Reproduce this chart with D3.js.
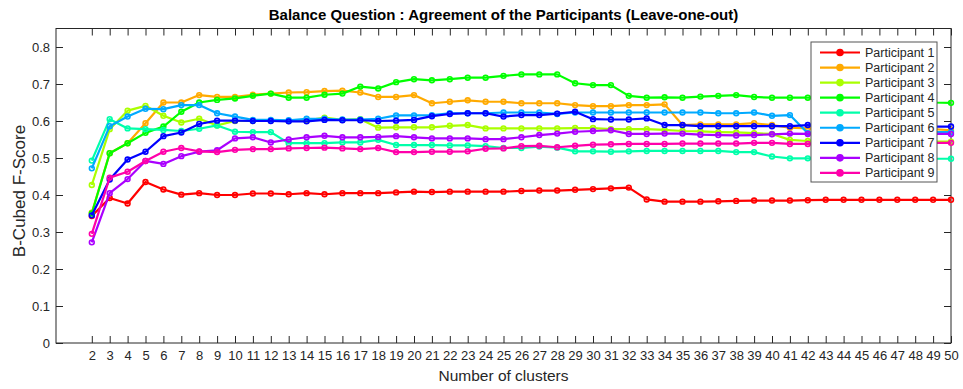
<!DOCTYPE html>
<html>
<head>
<meta charset="utf-8">
<script src="https://cdn.jsdelivr.net/npm/d3@7"></script>
<style>
  html, body { margin: 0; padding: 0; background: #fff; }
  svg { display: block; font-family: "Liberation Sans", Arial, Helvetica, sans-serif; }
</style>
</head>
<body>
<svg id="chart" width="963" height="389"></svg>
<script>
// Number of clusters (x values)
const clusters = d3.range(2, 51);

// B-Cubed F-Score per participant, one value per cluster count 2..50
const p1 = [0.343,0.392,0.377,0.435,0.415,0.401,0.405,0.400,0.400,0.404,0.404,0.402,0.405,0.402,0.405,0.405,0.405,0.407,0.409,0.408,0.409,0.409,0.409,0.409,0.411,0.412,0.412,0.414,0.416,0.418,0.420,0.388,0.382,0.382,0.382,0.383,0.384,0.385,0.385,0.385,0.386,0.387,0.387,0.387,0.387,0.387,0.387,0.387,0.387];
const p2 = [0.352,0.513,0.540,0.594,0.650,0.650,0.670,0.665,0.665,0.671,0.674,0.677,0.678,0.681,0.682,0.677,0.665,0.665,0.670,0.648,0.652,0.656,0.652,0.652,0.648,0.648,0.648,0.643,0.640,0.640,0.643,0.643,0.645,0.589,0.591,0.591,0.591,0.594,0.589,0.582,0.580,0.578,0.578,0.578,0.578,0.578,0.578,0.578,0.575];
const p3 = [0.427,0.578,0.628,0.641,0.614,0.596,0.606,0.588,0.600,0.600,0.601,0.600,0.601,0.609,0.603,0.605,0.582,0.583,0.583,0.583,0.587,0.589,0.580,0.580,0.580,0.580,0.580,0.581,0.581,0.578,0.578,0.578,0.576,0.573,0.572,0.570,0.569,0.567,0.565,0.549,0.546,0.544,0.544,0.544,0.544,0.544,0.544,0.544,0.544];
const p4 = [0.350,0.513,0.540,0.568,0.585,0.625,0.650,0.657,0.661,0.668,0.674,0.663,0.663,0.671,0.674,0.693,0.688,0.705,0.713,0.710,0.713,0.717,0.717,0.722,0.726,0.726,0.726,0.702,0.697,0.697,0.668,0.663,0.664,0.663,0.666,0.668,0.670,0.665,0.663,0.663,0.663,0.662,0.662,0.661,0.660,0.658,0.655,0.650,0.649];
const p5 = [0.493,0.605,0.580,0.578,0.576,0.573,0.579,0.588,0.571,0.570,0.570,0.540,0.540,0.540,0.542,0.542,0.549,0.535,0.535,0.535,0.534,0.534,0.532,0.527,0.527,0.531,0.528,0.518,0.518,0.517,0.518,0.519,0.519,0.519,0.519,0.519,0.516,0.516,0.504,0.499,0.499,0.498,0.498,0.498,0.498,0.498,0.498,0.498,0.498];
const p6 = [0.472,0.586,0.612,0.633,0.632,0.643,0.643,0.621,0.612,0.603,0.603,0.602,0.606,0.606,0.604,0.604,0.606,0.615,0.615,0.616,0.621,0.621,0.621,0.623,0.623,0.623,0.619,0.623,0.623,0.623,0.623,0.623,0.623,0.623,0.623,0.621,0.621,0.623,0.614,0.616,0.567,0.570,0.570,0.570,0.570,0.570,0.570,0.570,0.570];
const p7 = [0.345,0.442,0.496,0.517,0.559,0.569,0.592,0.601,0.601,0.600,0.600,0.599,0.599,0.603,0.602,0.602,0.600,0.601,0.603,0.613,0.619,0.621,0.621,0.612,0.616,0.616,0.620,0.625,0.605,0.604,0.604,0.607,0.589,0.589,0.586,0.586,0.586,0.586,0.586,0.586,0.589,0.585,0.585,0.585,0.585,0.585,0.585,0.585,0.585];
const p8 = [0.272,0.405,0.443,0.492,0.484,0.505,0.517,0.521,0.553,0.556,0.542,0.550,0.556,0.560,0.556,0.556,0.557,0.559,0.556,0.553,0.553,0.553,0.551,0.551,0.556,0.562,0.566,0.571,0.573,0.575,0.565,0.565,0.566,0.566,0.563,0.562,0.561,0.562,0.564,0.566,0.565,0.565,0.565,0.565,0.565,0.565,0.565,0.565,0.565];
const p9 = [0.295,0.447,0.463,0.492,0.517,0.527,0.518,0.516,0.522,0.524,0.524,0.526,0.527,0.528,0.526,0.524,0.527,0.516,0.516,0.517,0.517,0.518,0.525,0.526,0.532,0.533,0.529,0.533,0.536,0.537,0.538,0.538,0.538,0.539,0.539,0.539,0.539,0.541,0.541,0.538,0.538,0.541,0.541,0.541,0.541,0.541,0.541,0.541,0.541];

const seriesNames = ["Participant 1","Participant 2","Participant 3","Participant 4","Participant 5","Participant 6","Participant 7","Participant 8","Participant 9"];
const seriesValues = [p1, p2, p3, p4, p5, p6, p7, p8, p9];
const seriesColors = ["#ff0000","#ffaa00","#aaff00","#00ff00","#00ffaa","#00aaff","#0000ff","#aa00ff","#ff00aa"];

const yTicks = [0, 0.1, 0.2, 0.3, 0.4, 0.5, 0.6, 0.7, 0.8];

const svg = d3.select("#chart");
const L = 56, R = 951, T = 28.5, B = 343;
const axisColor = "#262626";
const tickLen = 7;

const x = d3.scaleLinear().domain([0, 50]).range([L, R]);
const y = d3.scaleLinear().domain([0, 0.85]).range([B, T]);

// Axes box with inward ticks on all four sides
const gx = svg.append("g").attr("transform", `translate(0,${B})`)
  .call(d3.axisBottom(x).tickValues(clusters).tickFormat(d3.format("d")).tickSizeInner(-tickLen).tickSizeOuter(0).tickPadding(8));
const gxTop = svg.append("g").attr("transform", `translate(0,${T})`)
  .call(d3.axisTop(x).tickValues(clusters).tickFormat("").tickSizeInner(-tickLen).tickSizeOuter(0));
const gy = svg.append("g").attr("transform", `translate(${L},0)`)
  .call(d3.axisLeft(y).tickValues(yTicks).tickFormat(d => d === 0 ? "0" : d3.format(".1f")(d)).tickSizeInner(-tickLen).tickSizeOuter(0).tickPadding(6));
const gyRight = svg.append("g").attr("transform", `translate(${R},0)`)
  .call(d3.axisRight(y).tickValues(yTicks).tickFormat("").tickSizeInner(-tickLen).tickSizeOuter(0));

[gx, gxTop, gy, gyRight].forEach(g => {
  g.select(".domain").remove();
  g.selectAll(".tick line").attr("stroke", axisColor).attr("stroke-width", 1);
  g.selectAll(".tick text").attr("fill", axisColor).style("font-size", "13px");
});
gx.selectAll(".tick text").attr("dy", "0.71em");

svg.append("rect")
  .attr("x", L).attr("y", T).attr("width", R - L).attr("height", B - T)
  .attr("fill", "none").attr("stroke", axisColor).attr("stroke-width", 1);

// Lines with circle markers
const line = d3.line().x((d, i) => x(clusters[i])).y(d => y(d));
seriesValues.forEach((vals, s) => {
  const g = svg.append("g");
  g.append("path").datum(vals)
    .attr("d", line)
    .attr("fill", "none")
    .attr("stroke", seriesColors[s])
    .attr("stroke-width", 2.2)
    .attr("stroke-linejoin", "round");
  g.selectAll("circle").data(vals).join("circle")
    .attr("cx", (d, i) => x(clusters[i]))
    .attr("cy", d => y(d))
    .attr("r", 2.4)
    .attr("fill", "none")
    .attr("stroke", seriesColors[s])
    .attr("stroke-width", 1.6);
});

// Title and axis labels
svg.append("text")
  .attr("x", (L + R) / 2).attr("y", 20)
  .attr("text-anchor", "middle")
  .style("font-size", "15px").style("font-weight", "bold")
  .attr("fill", "#000")
  .text("Balance Question : Agreement of the Participants (Leave-one-out)");

svg.append("text")
  .attr("x", (L + R) / 2).attr("y", 381)
  .attr("text-anchor", "middle")
  .style("font-size", "15.5px")
  .attr("fill", axisColor)
  .text("Number of clusters");

svg.append("text")
  .attr("transform", `translate(24.5,191) rotate(-90)`)
  .attr("text-anchor", "middle")
  .style("font-size", "17px")
  .attr("fill", axisColor)
  .text("B-Cubed F-Score");

// Legend
const lg = svg.append("g").attr("transform", "translate(811,42)");
lg.append("rect").attr("width", 126).attr("height", 140)
  .attr("fill", "#fff").attr("stroke", "#555").attr("stroke-width", 1);
seriesNames.forEach((name, s) => {
  const cy = 10.5 + s * 15.05;
  lg.append("line").attr("x1", 9).attr("x2", 49).attr("y1", cy).attr("y2", cy)
    .attr("stroke", seriesColors[s]).attr("stroke-width", 2.2);
  lg.append("circle").attr("cx", 29).attr("cy", cy).attr("r", 3)
    .attr("fill", seriesColors[s]).attr("stroke", seriesColors[s]).attr("stroke-width", 1.6);
  lg.append("text").attr("x", 54).attr("y", cy).attr("dy", "0.35em")
    .style("font-size", "12.5px").attr("fill", axisColor).text(name);
});
</script>
</body>
</html>
